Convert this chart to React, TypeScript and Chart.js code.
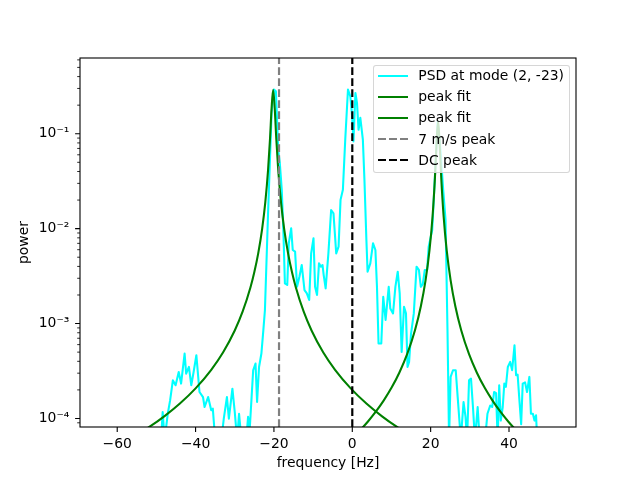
import React, { useEffect, useRef } from 'react';
import Chart from 'chart.js/auto';

// ---- data ----
const psdFreq = [
  -50.0, -48.8, -48.4, -47.9, -47.1, -46.5, -45.8, -45.1, -44.3, -43.7, -42.8, -42.4, -41.7, -41.1, -40.5,
  -39.8, -39.0, -38.1, -37.7, -36.8, -36.0, -35.6, -35.0, -34.1, -33.4, -32.8, -32.0, -31.5, -30.6, -30.0,
  -29.4, -28.9, -28.3, -27.2, -26.6, -26.2, -25.7, -25.3, -24.7, -24.3, -23.8, -23.2, -22.7, -22.3, -21.5,
  -20.6, -20.0, -19.5, -18.9, -18.5, -18.0, -17.6, -17.2, -16.6, -16.2, -15.6, -15.2, -14.6, -14.1, -13.5,
  -12.9, -12.2, -11.6, -11.0, -10.5, -9.9, -9.5, -9.0, -8.5, -8.0, -7.6, -7.3, -6.8, -6.1, -5.4,
  -4.8, -4.1, -3.5, -3.0, -2.4, -1.8, -1.1, -0.5, -0.1, 0.3, 0.8, 1.2, 1.6, 2.05, 2.7,
  3.1, 3.6, 3.9, 4.6, 5.3, 5.9, 6.3, 6.7, 7.4, 7.9, 8.5, 9.3, 9.7, 10.4, 11.0,
  11.6, 12.1, 12.6, 13.2, 13.7, 14.1, 14.5, 15.0, 15.7, 16.4, 17.0, 17.5, 18.0, 18.5, 19.1,
  19.5, 20.4, 21.0, 21.8, 22.5, 23.2, 23.8, 24.3, 24.7, 25.1, 25.7, 26.4, 26.9, 27.7, 28.4,
  28.9, 29.3, 29.8, 30.3, 30.8, 31.3, 32.0, 32.5, 33.7, 34.5, 35.2, 35.7, 36.2, 36.7, 37.1,
  37.5, 37.9, 38.4, 38.8, 39.2, 39.7, 40.3, 40.8, 41.4, 41.8, 42.2, 42.6, 43.1, 43.5, 44.1,
  44.6, 45.2, 45.6, 46.1, 46.5, 46.9, 47.2, 48.0,
];
const psdPower = [
  4e-5, 6e-5, 1.17e-4, 6e-5, 1.12e-4, 1.55e-4, 2.52e-4, 2.24e-4, 3.09e-4, 2.33e-4, 4.83e-4, 2.97e-4, 3.49e-4, 2.24e-4, 3.09e-4,
  4.64e-4, 1.9e-4, 1.68e-4, 1.32e-4, 1.68e-4, 1.22e-4, 1.27e-4, 6e-5, 5e-5, 6e-5, 9.95e-5, 1.68e-4, 9.95e-5, 2.06e-4, 1.17e-4,
  6e-5, 1.12e-4, 6e-5, 5e-5, 1.04e-4, 7.5e-5, 1.68e-4, 3.22e-4, 3.79e-4, 1.49e-4, 3.49e-4, 4.83e-4, 8.51e-4, 1.38e-3, 1.45e-2,
  0.165, 0.292, 0.28, 0.0678, 0.0491, 0.0257, 9.69e-3, 2.65e-3, 2.55e-3, 7.02e-3, 1.01e-2, 5.96e-3, 5.72e-3, 2.44e-3, 3.11e-3,
  4.14e-3, 2.25e-3, 2.08e-3, 1.77e-3, 5.49e-3, 7.93e-3, 2.44e-3, 2.0e-3, 4.31e-3, 3.97e-3, 4.14e-3, 3.24e-3, 2.35e-3, 5.49e-3, 1.57e-2,
  1.45e-2, 5.49e-3, 6.46e-3, 2.01e-2, 2.57e-2, 8.65e-2, 0.292, 0.248, 0.165, 0.083, 0.269, 0.211, 0.11, 0.147, 0.0865,
  0.0327, 7.6e-3, 3.52e-3, 4.31e-3, 7.02e-3, 5.96e-3, 2.44e-3, 6.17e-4, 6.17e-4, 1.91e-3, 1.09e-3, 2.44e-3, 1.44e-3, 1.28e-3, 2.44e-3,
  3.52e-3, 2.08e-3, 5.02e-4, 1.5e-3, 1.28e-3, 3.49e-4, 3.94e-4, 7.85e-4, 1.28e-3, 3.97e-3, 3.67e-3, 2.44e-3, 2.6e-3, 3.67e-3, 3.67e-3,
  6.46e-3, 9.69e-3, 0.03, 0.135, 0.068, 0.0257, 0.0124, 8.5e-4, 6e-5, 2.74e-4, 3.22e-4, 3.22e-4, 1.68e-4, 6e-5, 1.49e-4,
  1.04e-4, 6e-5, 2.52e-4, 2.63e-4, 1.32e-4, 6e-5, 1.32e-4, 6e-5, 5e-5, 1.12e-4, 1.37e-4, 1.32e-4, 1.9e-4, 1.85e-4, 6e-5,
  2.24e-4, 9.5e-5, 1.32e-4, 2.33e-4, 2.15e-4, 3.49e-4, 3.94e-4, 3.22e-4, 5.91e-4, 2.85e-4, 2.9e-4, 1.68e-4, 8.7e-5, 2.33e-4, 2.4e-4,
  1.9e-4, 2.74e-4, 1.12e-4, 1.12e-4, 9.5e-5, 1.08e-4, 6e-5, 4e-5,
];

const fit1Freq = [
  -64, -60, -56, -52, -48, -44, -40, -36, -33, -30, -28, -26, -25, -24, -23, -22.2, -21.5, -21, -20.6,
  -20.2,
  -19.8, -19.4, -18.9, -18.2, -17.4, -16.4, -15.4, -14.4, -12.4, -10.4, -7.4, -4.4, -0.4, 3.6, 7.6, 11.6,
  15.6, 19.6, 27.6, 39.6, 51.6,
];
const fit1Power = [
  4.25e-5, 5.14e-5, 6.36e-5, 8.05e-5, 1.054e-4, 1.438e-4, 2.077e-4, 3.26e-4, 4.96e-4, 8.46e-4, 1.333e-3, 2.4e-3, 3.49e-3, 5.53e-3, 1.003e-2, 1.903e-2, 4.13e-2, 8.85e-2, 0.1848,
  0.29,
  0.1848, 0.0885, 0.0413, 0.01903, 0.01003, 5.53e-3, 3.49e-3, 2.4e-3, 1.333e-3, 8.46e-4, 4.96e-4, 3.26e-4, 2.077e-4, 1.438e-4, 1.054e-4, 8.05e-5,
  6.36e-5, 5.14e-5, 3.565e-5, 2.28e-5, 1.58e-5,
];

const fit2Freq = [
  -64, -40, -20, -10, -4, 0, 2, 4, 6, 8, 10, 12, 14, 16, 17.5, 18.7, 19.7, 20.5, 21.1, 21.5,
  21.9,
  22.3, 22.7, 23.3, 24.1, 25.1, 26.3, 27.8, 29.8, 31.8, 33.8, 35.8, 37.8, 39.8, 41.8, 43.8, 47.8, 51.6,
];
const fit2Power = [
  4.04e-6, 7.78e-6, 1.699e-5, 2.93e-5, 4.44e-5, 6.21e-5, 7.53e-5, 9.3e-5, 1.178e-4, 1.542e-4, 2.103e-4, 3.036e-4, 4.76e-4, 8.51e-4, 1.523e-3, 2.85e-3, 5.89e-3, 1.367e-2, 3.464e-2, 7.83e-2,
  0.135,
  7.83e-2, 3.464e-2, 1.367e-2, 5.89e-3, 2.85e-3, 1.523e-3, 8.51e-4, 4.76e-4, 3.036e-4, 2.103e-4, 1.542e-4, 1.178e-4, 9.3e-5, 7.53e-5, 6.21e-5, 4.44e-5, 3.38e-5,
];

const windPeakFreq = -18.7;
const dcPeakFreq = 0;

const seriesLabels = ['PSD at mode (2, -23)', 'peak fit', 'peak fit', '7 m/s peak', 'DC peak'];
const seriesColors = ['#00ffff', '#008000', '#008000', '#808080', '#000000'];
const seriesDashed = [false, false, false, true, true];

const xAxisMin = -69.5;
const xAxisMax = 57.1;
const yAxisMin = 8.13e-5;
const yAxisMax = 0.628;

const xTickValues = [-60, -40, -20, 0, 20, 40];
const xTickLabels = ['\u221260', '\u221240', '\u221220', '0', '20', '40'];
const yMajorTicks = [1e-4, 1e-3, 1e-2, 1e-1];
const yTickLabels = ['10\u207B\u2074', '10\u207B\u00B3', '10\u207B\u00B2', '10\u207B\u00B9'];
const yMinorDecades = [1e-5, 1e-4, 1e-3, 1e-2, 1e-1];
const yMinorMultipliers = [2, 3, 4, 5, 6, 7, 8, 9];

const xTitle = 'frequency [Hz]';
const yTitle = 'power';

const FONT = "'DejaVu Sans', 'Liberation Sans', sans-serif";
const FS = 13.9;

const yMinorTicks: number[] = [];
yMinorDecades.forEach((d) =>
  yMinorMultipliers.forEach((m) => {
    const v = d * m;
    if (v >= yAxisMin && v <= yAxisMax) yMinorTicks.push(v);
  })
);

const toPoints = (xs: number[], ys: number[]) => xs.map((x, i) => ({ x, y: ys[i] }));

const frameAndTicks = {
  id: 'frameAndTicks',
  afterDraw(chart: any) {
    const { ctx, chartArea: a, scales } = chart;
    ctx.save();
    ctx.strokeStyle = '#000';
    ctx.lineCap = 'butt';
    ctx.lineWidth = 1.1;
    ctx.beginPath();
    xTickValues.forEach((v) => {
      const p = scales.x.getPixelForValue(v);
      ctx.moveTo(p, a.bottom);
      ctx.lineTo(p, a.bottom + 4.9);
    });
    yMajorTicks.forEach((v) => {
      const p = scales.y.getPixelForValue(v);
      ctx.moveTo(a.left, p);
      ctx.lineTo(a.left - 4.9, p);
    });
    ctx.stroke();
    ctx.lineWidth = 0.83;
    ctx.beginPath();
    yMinorTicks.forEach((v) => {
      const p = scales.y.getPixelForValue(v);
      ctx.moveTo(a.left, p);
      ctx.lineTo(a.left - 2.8, p);
    });
    ctx.stroke();
    ctx.lineWidth = 1.1;
    ctx.strokeRect(a.left, a.top, a.right - a.left, a.bottom - a.top);
    ctx.restore();
  },
};

export default function App() {
  const canvasRef = useRef<HTMLCanvasElement | null>(null);

  useEffect(() => {
    const canvas = canvasRef.current;
    if (!canvas) return;
    const lineBase = {
      pointRadius: 0,
      borderWidth: 2.08,
      borderJoinStyle: 'round' as const,
      borderCapStyle: 'butt' as const,
      clip: 0,
      fill: false,
    };
    const chart = new Chart(canvas, {
      type: 'line',
      data: {
        datasets: [
          { ...lineBase, label: seriesLabels[0], data: toPoints(psdFreq, psdPower), borderColor: seriesColors[0], tension: 0, order: 5 },
          { ...lineBase, label: seriesLabels[1], data: toPoints(fit1Freq, fit1Power), borderColor: seriesColors[1], cubicInterpolationMode: 'monotone', order: 4 },
          { ...lineBase, label: seriesLabels[2], data: toPoints(fit2Freq, fit2Power), borderColor: seriesColors[2], cubicInterpolationMode: 'monotone', order: 3 },
          {
            ...lineBase, label: seriesLabels[3], borderColor: seriesColors[3], borderWidth: 2.2, borderDash: [7.7, 3.3], order: 2,
            data: [{ x: windPeakFreq, y: yAxisMin }, { x: windPeakFreq, y: yAxisMax }],
          },
          {
            ...lineBase, label: seriesLabels[4], borderColor: seriesColors[4], borderWidth: 2.2, borderDash: [7.7, 3.3], order: 1,
            data: [{ x: dcPeakFreq, y: yAxisMin }, { x: dcPeakFreq, y: yAxisMax }],
          },
        ],
      },
      options: {
        responsive: false,
        animation: false,
        devicePixelRatio: 1,
        events: [],
        parsing: false as any,
        layout: { padding: { left: 0, top: 58, right: 64, bottom: 0 } },
        plugins: { legend: { display: false }, tooltip: { enabled: false } },
        scales: {
          x: {
            type: 'linear',
            min: xAxisMin,
            max: xAxisMax,
            bounds: 'data',
            grid: { display: false, drawTicks: false },
            border: { display: false },
            afterBuildTicks: (s: any) => {
              s.ticks = xTickValues.map((v) => ({ value: v }));
            },
            afterFit: (s: any) => {
              s.height = 53;
            },
            ticks: {
              autoSkip: false,
              maxRotation: 0,
              padding: 9.5,
              color: '#000',
              font: { family: FONT, size: FS },
              callback: (v: any) => {
                const i = xTickValues.indexOf(Number(v));
                return i >= 0 ? xTickLabels[i] : '';
              },
            },
            title: { display: true, text: xTitle, color: '#000', font: { family: FONT, size: FS }, padding: { top: 0, bottom: 8.2 } },
          },
          y: {
            type: 'logarithmic',
            min: yAxisMin,
            max: yAxisMax,
            bounds: 'data',
            grid: { display: false, drawTicks: false },
            border: { display: false },
            afterBuildTicks: (s: any) => {
              const all = [...yMajorTicks, ...yMinorTicks].sort((a, b) => a - b);
              s.ticks = all.map((v) => ({ value: v }));
            },
            afterFit: (s: any) => {
              s.width = 80;
            },
            ticks: {
              autoSkip: false,
              padding: 10.7,
              color: '#000',
              font: { family: FONT, size: FS },
              callback: (v: any) => {
                const i = yMajorTicks.indexOf(Number(v));
                return i >= 0 ? yTickLabels[i] : '';
              },
            },
            title: { display: true, text: yTitle, color: '#000', font: { family: FONT, size: FS }, padding: { top: 15.6, bottom: 0 } },
          },
        },
      },
      plugins: [frameAndTicks],
    } as any);
    return () => chart.destroy();
  }, []);

  const rowCenters = [10.7, 31.7, 52.7, 74.0, 95.0];

  return (
    <div style={{ position: 'fixed', left: 0, top: 0, width: 640, height: 480, background: '#fff' }}>
      <canvas ref={canvasRef} width={640} height={480} style={{ display: 'block', width: 640, height: 480 }} />
      <div
        style={{
          position: 'absolute',
          left: 373,
          top: 65,
          width: 197,
          height: 108,
          boxSizing: 'border-box',
          border: '1px solid rgba(204,204,204,0.8)',
          borderRadius: 3,
          background: 'rgba(255,255,255,0.8)',
          fontFamily: FONT,
          fontSize: FS,
          color: '#000',
        }}
      >
        {seriesLabels.map((lab, i) => (
          <div key={i}>
            <div
              style={{
                position: 'absolute',
                left: 4.3,
                top: rowCenters[i] - 1.04 - 1,
                width: 30,
                height: 2.08,
                background: seriesDashed[i]
                  ? `repeating-linear-gradient(90deg, ${seriesColors[i]} 0px, ${seriesColors[i]} 7.7px, transparent 7.7px, transparent 11px)`
                  : seriesColors[i],
              }}
            />
            <div
              style={{
                position: 'absolute',
                left: 44.3,
                top: rowCenters[i] - 10.25 - 1,
                lineHeight: '21px',
                whiteSpace: 'nowrap',
              }}
            >
              {lab}
            </div>
          </div>
        ))}
      </div>
    </div>
  );
}
